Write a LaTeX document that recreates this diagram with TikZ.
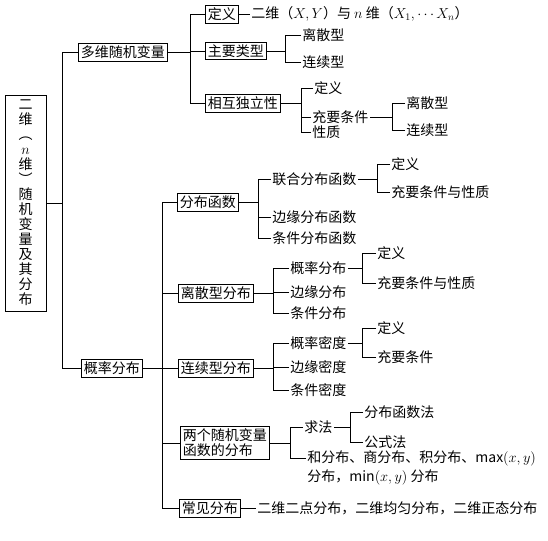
\documentclass[tikz,border=0pt]{standalone}
\usepackage{fontspec}
\setmainfont{Noto Sans CJK SC}

\begin{document}
\begin{tikzpicture}[x=1pt,y=-1pt,line width=0.8pt,
  every node/.style={font=\fontsize{14}{15}\selectfont},
  box/.style={draw,line width=0.9pt,anchor=west,inner sep=2.5pt},
  leaf/.style={anchor=west,inner sep=1pt}]
\useasboundingbox (0,0) rectangle (548,540);

% Root
\node[draw,line width=0.9pt,minimum width=41pt,minimum height=216pt,
  align=center,inner sep=0pt] (root) at (25.5,203)
  {二\\维\\︵\\$n$\\维\\︶\\随\\机\\变\\量\\及\\其\\分\\布};
\coordinate (j-root) at (62,203);
\node[box] (multi) at (78,52) {多维随机变量};
\node[box] (prob)  at (81,368) {概率分布};
\draw (root) -- (j-root);
\draw (multi.west) -| (j-root);
\draw (prob.west) -| (j-root);

% Multi-dimensional random variables
\coordinate (j-multi) at (190,52);
\node[box] (def)   at (205,14) {定义};
\node[box] (types) at (205,51) {主要类型};
\node[box] (indep) at (205,103) {相互独立性};
\draw (multi) -- (j-multi);
\draw (def.west) -| (j-multi);
\draw (types.west) -| (j-multi);
\draw (indep.west) -| (j-multi);
\node[leaf] (def-txt) at (250,14) {二维（$X,Y$）与 $n$ 维（$X_1,\cdots X_n$）};
\draw (def) -- (def-txt);

\coordinate (j-types) at (285,51);
\node[leaf] (types-d) at (301,35) {离散型};
\node[leaf] (types-c) at (301,62) {连续型};
\draw (types) -- (j-types);
\draw (types-d.west) -| (j-types);
\draw (types-c.west) -| (j-types);

\coordinate (j-indep) at (301,103);
\node[leaf] (indep-def)  at (313,88) {定义};
\node[leaf] (indep-cond) at (311,117) {充要条件};
\node[leaf] (indep-prop) at (311,132) {性质};
\draw (indep) -- (j-indep);
\draw (indep-def.west) -| (j-indep);
\draw (indep-cond.west) -| (j-indep);
\draw (indep-prop.west) -| (j-indep);

\coordinate (j-cond) at (392,117);
\node[leaf] (cond-d) at (405,103) {离散型};
\node[leaf] (cond-c) at (405,130) {连续型};
\draw (indep-cond) -- (j-cond);
\draw (cond-d.west) -| (j-cond);
\draw (cond-c.west) -| (j-cond);

% Probability distributions
\coordinate (j-prob) at (162,368);
\node[box] (cdf)  at (177,202) {分布函数};
\node[box] (disc) at (178,293) {离散型分布};
\node[box] (cont) at (178,368) {连续型分布};
\node[box,align=left] (func) at (180,443) {两个随机变量\\函数的分布};
\node[box] (comm) at (179,508) {常见分布};
\draw (prob) -- (j-prob);
\draw (cdf.west) -| (j-prob);
\draw (disc.west) -| (j-prob);
\draw (cont.west) -| (j-prob);
\draw (func.west) -| (j-prob);
\draw (comm.west) -| (j-prob);

% Distribution function
\coordinate (j-cdf) at (258,202);
\node[leaf] (cdf-joint) at (271,179) {联合分布函数};
\node[leaf] (cdf-marg)  at (271,217) {边缘分布函数};
\node[leaf] (cdf-cond)  at (271,238) {条件分布函数};
\draw (cdf) -- (j-cdf);
\draw (cdf-joint.west) -| (j-cdf);
\draw (cdf-marg.west) -| (j-cdf);
\draw (cdf-cond.west) -| (j-cdf);
\coordinate (j-joint) at (377,179);
\node[leaf] (joint-def)  at (390,164) {定义};
\node[leaf] (joint-prop) at (390,192) {充要条件与性质};
\draw (cdf-joint) -- (j-joint);
\draw (joint-def.west) -| (j-joint);
\draw (joint-prop.west) -| (j-joint);

% Discrete
\coordinate (j-disc) at (273,293);
\node[leaf] (disc-p) at (289,268) {概率分布};
\node[leaf] (disc-m) at (289,292) {边缘分布};
\node[leaf] (disc-c) at (289,313) {条件分布};
\draw (disc) -- (j-disc);
\draw (disc-p.west) -| (j-disc);
\draw (disc-m.west) -| (j-disc);
\draw (disc-c.west) -| (j-disc);
\coordinate (j-discp) at (362,268);
\node[leaf] (discp-def)  at (376,253) {定义};
\node[leaf] (discp-prop) at (376,283) {充要条件与性质};
\draw (disc-p) -- (j-discp);
\draw (discp-def.west) -| (j-discp);
\draw (discp-prop.west) -| (j-discp);

% Continuous
\coordinate (j-cont) at (273,368);
\node[leaf] (cont-p) at (289,343) {概率密度};
\node[leaf] (cont-m) at (289,367) {边缘密度};
\node[leaf] (cont-c) at (289,390) {条件密度};
\draw (cont) -- (j-cont);
\draw (cont-p.west) -| (j-cont);
\draw (cont-m.west) -| (j-cont);
\draw (cont-c.west) -| (j-cont);
\coordinate (j-contp) at (362,343);
\node[leaf] (contp-def)  at (376,328) {定义};
\node[leaf] (contp-cond) at (376,357) {充要条件};
\draw (cont-p) -- (j-contp);
\draw (contp-def.west) -| (j-contp);
\draw (contp-cond.west) -| (j-contp);

% Functions of two random variables
\coordinate (j-func) at (290,443);
\node[leaf] (func-how) at (303,427) {求法};
\node[leaf] (func-sum) at (306,458) {和分布、商分布、积分布、$\max(x,y)$};
\node[leaf] (func-sum2) at (306,477) {分布，$\min(x,y)$ 分布};
\draw (func) -- (j-func);
\draw (func-how.west) -| (j-func);
\draw (func-sum.west) -| (j-func);
\coordinate (j-how) at (350,427);
\node[leaf] (how-cdf) at (363,412) {分布函数法};
\node[leaf] (how-fml) at (363,442) {公式法};
\draw (func-how) -- (j-how);
\draw (how-cdf.west) -| (j-how);
\draw (how-fml.west) -| (j-how);

% Common distributions
\node[leaf] (comm-txt) at (256,508) {二维二点分布，二维均匀分布，二维正态分布};
\draw (comm) -- (comm-txt);

\end{tikzpicture}
\end{document}
